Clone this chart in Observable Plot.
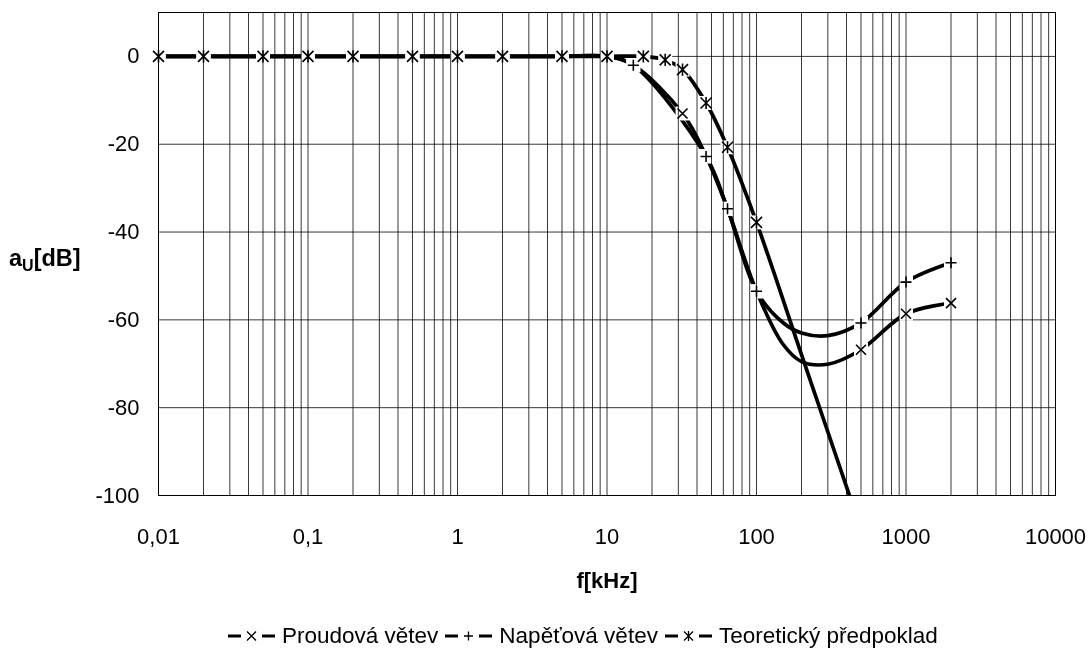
<!DOCTYPE html>
<html><head><meta charset="utf-8">
<script src="https://cdn.jsdelivr.net/npm/d3@7"></script>
<script src="https://cdn.jsdelivr.net/npm/@observablehq/plot@0.6"></script>
<style>
body{margin:0;background:#fff;font-family:"Liberation Sans",Arial,sans-serif;}
#chart{position:relative;width:1090px;height:652px;background:#fff;}
#legend{position:absolute;left:228px;top:623px;display:flex;align-items:center;font-size:22.5px;line-height:26px;white-space:nowrap;color:#000;}
.item{display:inline-flex;align-items:center;margin-right:7px;}
.item svg{margin-right:7px;}
</style></head><body><div id="chart"><div id="legend"></div></div>
<script>
// ---- data ----
const freqLow = [0.01, 0.02, 0.05, 0.1, 0.2, 0.5, 1, 2, 5, 10];
const zeroLow = [0, 0, 0, 0, 0, 0, 0, 0, 0, 0];

const proudF    = [...freqLow, 15, 32, 46, 64, 100, 150, 200, 300, 500, 1000, 2000];
const proudDB   = [...zeroLow, -2, -13, -22.7, -34.7, -53.5, -65.5, -69.5, -70.1, -66.8, -58.6, -56.2];
const proudMark = [1,1,1,1,1,1,1,1,1,1, 1, 1, 1, 1, 1, 0, 0, 0, 1, 1, 1];

const napF    = [...freqLow, 15, 46, 64, 100, 150, 200, 300, 500, 1000, 2000];
const napDB   = [...zeroLow, -2, -22.8, -34.7, -53.5, -60.6, -63.0, -63.6, -60.7, -51.4, -47.0];
const napMark = [1,1,1,1,1,1,1,1,1,1, 1, 1, 1, 1, 0, 0, 0, 1, 1, 1];

const teoF    = [...freqLow, 17.5, 24.5, 32, 46, 64, 100, 200, 500];
const teoDB   = [...zeroLow, 0, -0.8, -3.0, -10.6, -20.7, -37.8, -67.9, -107.7];
const teoMark = [1,1,1,1,1,1,1,1,1,1, 1, 1, 1, 1, 1, 1, 0, 0];

const seriesNames = ["Proudová větev", "Napěťová větev", "Teoretický předpoklad"];

const xTicks = [0.01, 0.1, 1, 10, 100, 1000, 10000];
const xTickLabels = ["0,01", "0,1", "1", "10", "100", "1000", "10000"];
const yTicks = [0, -20, -40, -60, -80, -100];
const yTickLabels = ["0", "-20", "-40", "-60", "-80", "-100"];
const xTitle = "f[kHz]";
const yTitleMain = "a", yTitleSub = "U", yTitleRest = "[dB]";

// ---- symbols ----
const half = s => Math.sqrt(s / Math.PI);
const symTimes = {draw(c, s){const r = half(s); c.moveTo(-r,-r); c.lineTo(r,r); c.moveTo(-r,r); c.lineTo(r,-r);}};
const symPlus  = {draw(c, s){const r = half(s); c.moveTo(-r,0); c.lineTo(r,0); c.moveTo(0,-r); c.lineTo(0,r);}};
const symStar  = {draw(c, s){const r = half(s); c.moveTo(-r,-r); c.lineTo(r,r); c.moveTo(-r,r); c.lineTo(r,-r); c.moveTo(0,-r*1.1); c.lineTo(0,r*1.1);}};
const symBox   = {draw(c, s){const r = half(s); c.rect(-r,-r,2*r,2*r);}};

const rows = (F, D, M) => F.map((f, i) => ({f, db: D[i], mark: M[i]}));
const series = [
  {data: rows(proudF, proudDB, proudMark), sym: symTimes, r: 5},
  {data: rows(napF, napDB, napMark), sym: symPlus, r: 5.5},
  {data: rows(teoF, teoDB, teoMark), sym: symStar, r: 5.5}
];

const gridX = d3.scaleLog().domain([0.01, 10000]).ticks();
const gridY = yTicks;
const FONT = "Liberation Sans, Arial, sans-serif";

const chart = Plot.plot({
  width: 1090, height: 612,
  marginLeft: 158, marginRight: 35, marginTop: 12, marginBottom: 117,
  style: {fontFamily: FONT, fontSize: "22px", background: "white", color: "black"},
  x: {type: "log", domain: [0.01, 10000], axis: null},
  y: {domain: [-100, 10], axis: null},
  marks: [
    Plot.ruleY(gridY, {stroke: "#383838", strokeWidth: 1}),
    ...series.map(s => Plot.line(s.data, {x: "f", y: "db", curve: "catmull-rom", stroke: "black", strokeWidth: 3.7, clip: true})),
    ...series.flatMap(s => [
      Plot.dot(s.data.filter(d => d.mark), {x: "f", y: "db", symbol: symBox, r: 7, fill: "white", stroke: "none"}),
      Plot.dot(s.data.filter(d => d.mark), {x: "f", y: "db", symbol: s.sym, r: s.r, fill: "none", stroke: "black", strokeWidth: 1.6})
    ]),
    Plot.ruleX(gridX, {stroke: "#383838", strokeWidth: 1, mixBlendMode: "multiply"}),
    Plot.frame({stroke: "black", strokeWidth: 1}),
    Plot.text(yTicks, {y: d => d, text: (d, i) => yTickLabels[i], frameAnchor: "left", dx: -19, textAnchor: "end", lineAnchor: "middle", fontSize: 22, fill: "black"}),
    Plot.text(xTicks, {x: d => d, text: (d, i) => xTickLabels[i], frameAnchor: "bottom", dy: 41, textAnchor: "middle", lineAnchor: "middle", fontSize: 22, fill: "black"}),
    Plot.text([xTitle], {text: d => d, frameAnchor: "bottom", dy: 85, lineAnchor: "middle", fontSize: 22, fontWeight: "bold", fill: "black"})
  ]
});
chart.style.position = "absolute";
chart.style.left = "0px";
chart.style.top = "0px";
document.getElementById("chart").prepend(chart);

// y-axis title with subscript
const svg = d3.select(chart);
const t = svg.append("text").attr("x", 9).attr("y", 266).attr("text-anchor", "start")
  .attr("font-family", FONT).attr("font-size", 23.5).attr("font-weight", "bold").attr("fill", "black");
t.append("tspan").text(yTitleMain);
t.append("tspan").attr("font-size", 16).attr("dy", 5).text(yTitleSub);
t.append("tspan").attr("dy", -5).text(yTitleRest);

// legend
const legendSyms = [symTimes, symPlus, symStar];
const legend = d3.select("#legend");
seriesNames.forEach((name, i) => {
  const item = legend.append("span").attr("class", "item");
  const sw = item.append("svg").attr("width", 47).attr("height", 20);
  sw.append("line").attr("x1", 0).attr("x2", 13).attr("y1", 10).attr("y2", 10).attr("stroke", "black").attr("stroke-width", 3);
  sw.append("line").attr("x1", 34).attr("x2", 47).attr("y1", 10).attr("y2", 10).attr("stroke", "black").attr("stroke-width", 3);
  const p = d3.path(); legendSyms[i].draw(p, Math.PI * 4.5 * 4.5);
  sw.append("path").attr("d", p.toString()).attr("transform", "translate(23.5,10)").attr("fill", "none").attr("stroke", "black").attr("stroke-width", 1.3);
  item.append("span").text(name);
});
</script>
</body></html>
